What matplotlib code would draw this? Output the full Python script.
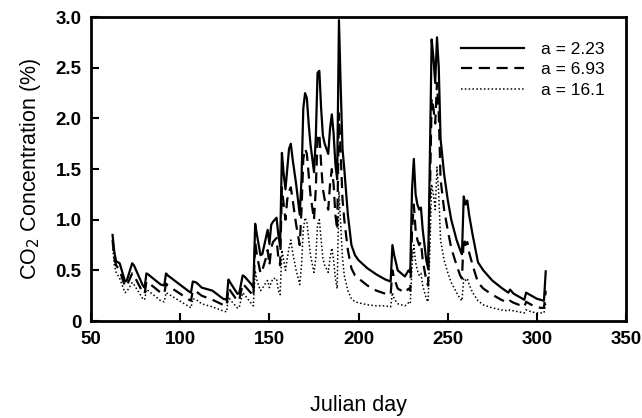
"""CO2 concentration vs Julian day for three values of a."""

import matplotlib.pyplot as plt

DAYS = [62, 63, 64, 66, 69, 70, 73, 74, 79, 80, 81, 82, 89, 91, 92, 93,
        105, 106, 107, 109, 112, 118, 124, 126, 127, 128, 132, 133, 135, 136,
        140, 141, 142, 143, 145, 146, 148, 149, 150, 151, 152, 154, 155, 156,
        157, 158, 159, 160, 161, 162, 163, 165, 167, 168, 169, 170, 171, 172,
        173, 175, 176, 177, 178, 179, 180, 181, 183, 184, 185, 186, 187, 188,
        189, 190, 191, 192, 194, 196, 198, 200, 205, 210, 215, 218, 219, 220,
        222, 224, 226, 228, 229, 230, 231, 232, 233, 234, 235, 236, 238, 239,
        240, 241, 242, 243, 244, 245, 246, 248, 250, 252, 255, 257, 258, 259,
        260, 261, 262, 264, 267, 270, 275, 280, 284, 285, 287, 290, 293, 294,
        297, 300, 302, 304, 305]

CO2_A223 = [0.85, 0.68, 0.59, 0.57, 0.39, 0.40, 0.57, 0.55, 0.35, 0.33, 0.47,
            0.46, 0.36, 0.35, 0.47, 0.45, 0.29, 0.28, 0.39, 0.38, 0.33, 0.30,
            0.22, 0.21, 0.41, 0.38, 0.27, 0.27, 0.45, 0.44, 0.36, 0.33, 0.96,
            0.85, 0.65, 0.66, 0.82, 0.90, 0.76, 0.95, 0.98, 1.02, 0.85, 0.74,
            1.66, 1.45, 1.30, 1.50, 1.70, 1.75, 1.60, 1.35, 1.05, 1.40, 2.10,
            2.25, 2.20, 1.95, 1.75, 1.47, 1.80, 2.45, 2.47, 2.10, 1.83, 1.75,
            1.65, 1.90, 2.04, 1.85, 1.55, 1.40, 2.97, 2.30, 1.70, 1.50, 1.05,
            0.75, 0.65, 0.60, 0.52, 0.46, 0.41, 0.39, 0.75, 0.65, 0.50, 0.47,
            0.44, 0.50, 0.48, 1.30, 1.60, 1.25, 1.15, 1.10, 1.12, 0.90, 0.60,
            0.52, 1.60, 2.78, 2.60, 2.35, 2.80, 2.50, 1.80, 1.45, 1.20, 1.00,
            0.80, 0.70, 0.66, 1.23, 1.15, 1.19, 1.05, 0.85, 0.58, 0.50, 0.40,
            0.33, 0.28, 0.31, 0.27, 0.24, 0.21, 0.28, 0.25, 0.22, 0.21, 0.20,
            0.49]

CO2_A693 = [0.80, 0.62, 0.55, 0.50, 0.34, 0.35, 0.47, 0.45, 0.28, 0.27, 0.39,
            0.38, 0.28, 0.27, 0.37, 0.35, 0.21, 0.20, 0.30, 0.29, 0.25, 0.21,
            0.16, 0.15, 0.33, 0.30, 0.20, 0.20, 0.37, 0.35, 0.27, 0.24, 0.78,
            0.65, 0.47, 0.50, 0.62, 0.70, 0.55, 0.72, 0.78, 0.82, 0.62, 0.55,
            1.32, 1.15, 1.00, 1.20, 1.28, 1.32, 1.20, 0.95, 0.75, 1.10, 1.60,
            1.70, 1.65, 1.45, 1.25, 1.00, 1.30, 1.80, 1.85, 1.55, 1.30, 1.20,
            1.10, 1.35, 1.50, 1.35, 1.05, 0.90, 2.05, 1.65, 1.20, 1.00, 0.70,
            0.52, 0.45, 0.42, 0.35, 0.30, 0.27, 0.26, 0.50, 0.42, 0.32, 0.30,
            0.28, 0.32, 0.30, 0.90, 1.15, 0.90, 0.80, 0.75, 0.78, 0.60, 0.40,
            0.35, 1.20, 2.20, 2.10, 1.95, 2.35, 2.05, 1.40, 1.10, 0.90, 0.72,
            0.55, 0.45, 0.42, 0.82, 0.75, 0.78, 0.68, 0.55, 0.38, 0.32, 0.26,
            0.21, 0.18, 0.20, 0.18, 0.16, 0.14, 0.19, 0.16, 0.14, 0.13, 0.13,
            0.30]

CO2_A161 = [0.75, 0.55, 0.48, 0.42, 0.28, 0.29, 0.38, 0.36, 0.22, 0.21, 0.31,
            0.30, 0.20, 0.19, 0.28, 0.27, 0.14, 0.13, 0.22, 0.21, 0.17, 0.14,
            0.10, 0.09, 0.24, 0.21, 0.13, 0.13, 0.28, 0.26, 0.17, 0.15, 0.50,
            0.40, 0.30, 0.32, 0.38, 0.40, 0.33, 0.38, 0.42, 0.42, 0.30, 0.26,
            0.70, 0.60, 0.50, 0.62, 0.72, 0.80, 0.68, 0.50, 0.36, 0.55, 0.90,
            1.02, 0.98, 0.82, 0.65, 0.48, 0.62, 0.95, 1.00, 0.80, 0.62, 0.55,
            0.48, 0.62, 0.72, 0.60, 0.42, 0.32, 1.28, 0.95, 0.62, 0.45, 0.30,
            0.22, 0.19, 0.18, 0.16, 0.15, 0.15, 0.14, 0.28, 0.22, 0.17, 0.16,
            0.15, 0.18, 0.17, 0.55, 0.75, 0.58, 0.50, 0.45, 0.47, 0.35, 0.22,
            0.19, 0.70, 1.35, 1.25, 1.10, 1.52, 1.25, 0.80, 0.60, 0.48, 0.38,
            0.28, 0.22, 0.20, 0.42, 0.40, 0.42, 0.36, 0.28, 0.20, 0.16, 0.13,
            0.11, 0.10, 0.11, 0.10, 0.09, 0.08, 0.11, 0.09, 0.08, 0.08, 0.08,
            0.18]

X_TICKS = [50, 100, 150, 200, 250, 300, 350]
Y_TICKS = [0, 0.5, 1.0, 1.5, 2.0, 2.5, 3.0]
Y_TICK_LABELS = ["0", "0.5", "1.0", "1.5", "2.0", "2.5", "3.0"]


def main() -> None:
    plt.rcParams["font.family"] = ["Liberation Sans", "DejaVu Sans"]
    fig = plt.figure(figsize=(6.42, 4.18), dpi=100)
    ax = fig.add_axes([0.142, 0.232, 0.833, 0.727])

    ax.plot(DAYS, CO2_A223, color="black", linewidth=1.6, linestyle="-",
            label="a = 2.23")
    ax.plot(DAYS, CO2_A693, color="black", linewidth=1.6,
            linestyle=(0, (5, 3)), label="a = 6.93")
    ax.plot(DAYS, CO2_A161, color="black", linewidth=1.1,
            linestyle=(0, (1, 1.5)), label="a = 16.1")

    ax.set_xlim(50, 350)
    ax.set_ylim(0, 3.0)
    ax.set_xticks(X_TICKS)
    ax.set_yticks(Y_TICKS)
    ax.set_yticklabels(Y_TICK_LABELS)
    ax.tick_params(direction="in", length=6, width=1.5,
                   labelsize=13.5, pad=7)
    for lbl in ax.get_xticklabels() + ax.get_yticklabels():
        lbl.set_fontweight("bold")
    for sp in ax.spines.values():
        sp.set_linewidth(2)

    ax.set_xlabel("Julian day", fontsize=15.5, labelpad=34)
    ax.set_ylabel("CO$_2$ Concentration (%)", fontsize=15.5, labelpad=9)

    ax.legend(loc="upper right", bbox_to_anchor=(0.99, 0.97), frameon=False,
              fontsize=12.5, handlelength=3.6, handletextpad=1.0,
              labelspacing=0.3)

    fig.savefig("out.png", dpi=100)
    plt.close(fig)


if __name__ == "__main__":
    main()
